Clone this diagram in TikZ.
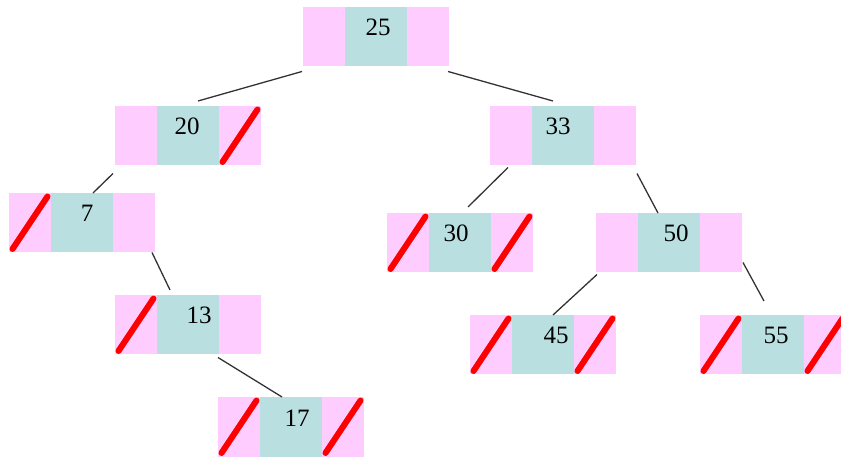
\documentclass[tikz,border=0pt]{standalone}
\usepackage{fontspec}
\setmainfont{Liberation Serif}
\tikzset{
  cellbase/.style={inner sep=0pt, outer sep=0pt, minimum height=59.5pt, anchor=north west, draw=none},
  lcell/.style={cellbase, fill=pinkcell, minimum width=42pt},
  mcell/.style={cellbase, fill=tealcell, minimum width=62pt},
  numlbl/.style={inner sep=0pt, font=\fontsize{25}{29}\selectfont},
  slash/.style={draw=red, line width=6pt, line cap=round},
  edge/.style={draw=edgegray, line width=1.3pt}
}
\definecolor{pinkcell}{HTML}{FFCCFF}
\definecolor{tealcell}{HTML}{B9DFE1}
\definecolor{edgegray}{HTML}{333333}
\newcommand\treenode[5]{%
  \node[lcell] (#1l) at (#2,#3) {};
  \node[mcell] (#1) at (#2+42,#3) {};
  \node[lcell] (#1r) at (#2+104,#3) {};
  \node[numlbl] (#1t) at ([xshift=#5pt,yshift=9pt]#1.center) {#4};
}
\newcommand\nullslash[1]{%
  \draw[slash] ([xshift=3.5pt,yshift=3.5pt]#1.south west) -- ([xshift=-3.5pt,yshift=-3.5pt]#1.north east);
}
\begin{document}
\begin{tikzpicture}[x=1pt,y=-1pt]
\useasboundingbox (0,0) rectangle (841,462);
\begin{scope}
\clip (0,0) rectangle (841,462);
\treenode{n25}{303}{7}{25}{2}
\treenode{n20}{115}{106}{20}{-1}
\treenode{n33}{490}{106}{33}{-5}
\treenode{n7}{9}{193}{7}{5}
\treenode{n30}{387}{213}{30}{-4}
\treenode{n50}{596}{213}{50}{7}
\treenode{n13}{115}{295}{13}{11}
\treenode{n45}{470}{315}{45}{13}
\treenode{n55}{700}{315}{55}{3}
\treenode{n17}{218}{397}{17}{6}

\nullslash{n20r}
\nullslash{n7l}
\nullslash{n30l}\nullslash{n30r}
\nullslash{n13l}
\nullslash{n45l}\nullslash{n45r}
\nullslash{n55l}\nullslash{n55r}
\nullslash{n17l}\nullslash{n17r}

\draw[edge] ([xshift=-1pt,yshift=-5pt]n25l.south west) -- ([xshift=10pt,yshift=5pt]n20.north);
\draw[edge] ([xshift=-1pt,yshift=-5pt]n25r.south east) -- ([xshift=-10pt,yshift=5pt]n33.north);
\draw[edge] ([xshift=-2pt,yshift=-8pt]n20l.south west) -- ([xshift=11pt]n7.north);
\draw[edge] ([xshift=-3pt]n7r.south east) -- ([xshift=-18pt,yshift=5pt]n13.north);
\draw[edge] ([xshift=-1pt,yshift=-3pt]n13.south east) -- ([xshift=-9pt]n17.north);
\draw[edge] ([xshift=-3pt,yshift=-2pt]n33l.south) -- ([xshift=8pt,yshift=6pt]n30.north);
\draw[edge] ([xshift=1pt,yshift=-8pt]n33r.south east) -- ([xshift=-11pt]n50.north);
\draw[edge] ([xshift=1pt,yshift=-2pt]n50l.south west) -- ([xshift=10pt]n45.north);
\draw[edge] ([xshift=1pt,yshift=10pt]n50r.south east) -- ([xshift=-9pt,yshift=14pt]n55.north);
\end{scope}
\end{tikzpicture}
\end{document}
